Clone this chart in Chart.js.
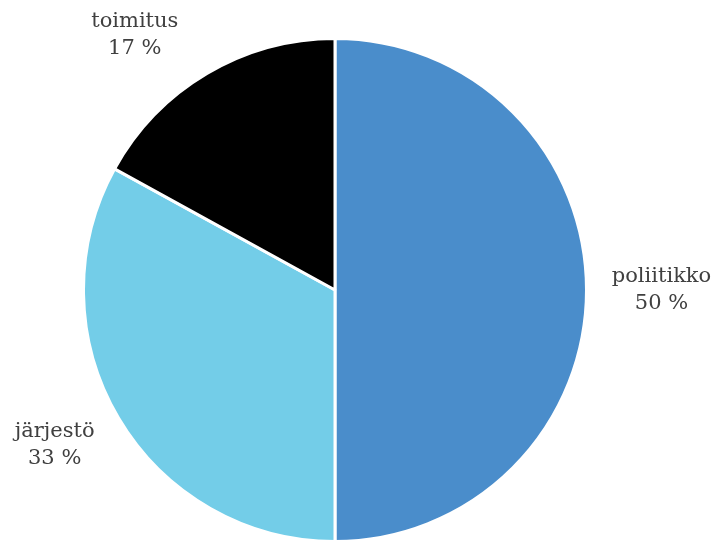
<!DOCTYPE html>
<html>
<head>
<meta charset="utf-8">
<script src="https://cdn.jsdelivr.net/npm/chart.js@4"></script>
<style>
  html, body { margin: 0; padding: 0; background: #fff; }
  #wrap { width: 716px; height: 540px; }
</style>
</head>
<body>
<div id="wrap"><canvas id="pieChart" width="716" height="540"></canvas></div>
<script>
const categories = ['poliitikko', 'järjestö', 'toimitus'];
const shares = [50, 33, 17];
const shareLabels = ['50 %', '33 %', '17 %'];
const sliceColors = ['#4a8dcb', '#73cde8', '#000000'];

// nudges so labels sit like the original (degrees, extra distance in px)
const labelNudge = [[0, 75], [1.6, 69], [-7.5, 73]];

const outsideLabels = {
    id: 'outsideLabels',
    afterDraw(chart) {
        const ctx = chart.ctx;
        const meta = chart.getDatasetMeta(0);
        ctx.save();
        ctx.font = '21px "DejaVu Serif", serif';
        ctx.fillStyle = '#404040';
        ctx.textAlign = 'center';
        ctx.textBaseline = 'middle';
        meta.data.forEach((arc, i) => {
            const p = arc.getProps(['x', 'y', 'startAngle', 'endAngle', 'outerRadius'], true);
            const mid = (p.startAngle + p.endAngle) / 2 + labelNudge[i][0] * Math.PI / 180;
            const r = p.outerRadius + labelNudge[i][1];
            const x = p.x + Math.cos(mid) * r;
            const y = p.y + Math.sin(mid) * r;
            ctx.fillText(categories[i], x, y - 13.5);
            ctx.fillText(shareLabels[i], x, y + 13.5);
        });
        ctx.restore();
    }
};

const ctx = document.getElementById('pieChart').getContext('2d');
new Chart(ctx, {
    type: 'pie',
    data: {
        labels: categories,
        datasets: [{
            data: shares,
            backgroundColor: sliceColors,
            borderColor: '#ffffff',
            borderWidth: 3
        }]
    },
    options: {
        responsive: false,
        animation: false,
        radius: 251.5,
        layout: { padding: { top: 40, bottom: 0, left: 85, right: 131 } },
        plugins: {
            legend: { display: false },
            tooltip: { enabled: false }
        }
    },
    plugins: [outsideLabels]
});
</script>
</body>
</html>
